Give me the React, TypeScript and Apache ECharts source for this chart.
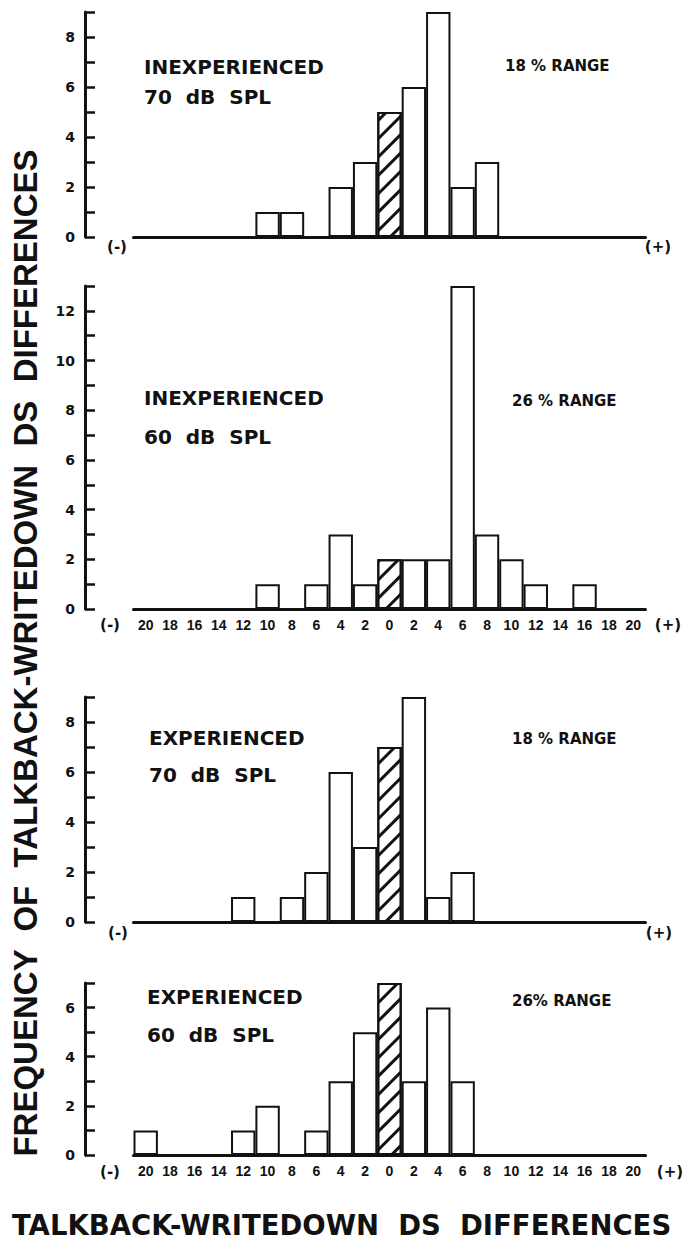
import React, { useEffect, useRef } from "react";
import * as echarts from "echarts";

// DS difference bins (signed); tick labels show absolute values
const bins = [-20, -18, -16, -14, -12, -10, -8, -6, -4, -2, 0, 2, 4, 6, 8, 10, 12, 14, 16, 18, 20];

// Frequencies per bin, one array per panel
const inexperienced70 = [0, 0, 0, 0, 0, 1, 1, 0, 2, 3, 5, 6, 9, 2, 3, 0, 0, 0, 0, 0, 0];
const inexperienced60 = [0, 0, 0, 0, 0, 1, 0, 1, 3, 1, 2, 2, 2, 13, 3, 2, 1, 0, 1, 0, 0];
const experienced70 = [0, 0, 0, 0, 1, 0, 1, 2, 6, 3, 7, 9, 1, 2, 0, 0, 0, 0, 0, 0, 0];
const experienced60 = [1, 0, 0, 0, 1, 2, 0, 1, 3, 5, 7, 3, 6, 3, 0, 0, 0, 0, 0, 0, 0];

const panelSeries = [inexperienced70, inexperienced60, experienced70, experienced60];
const yMax = [9, 13, 9, 7];
const groupLabels = ["INEXPERIENCED", "INEXPERIENCED", "EXPERIENCED", "EXPERIENCED"];
const levelLabels = ["70  dB  SPL", "60  dB  SPL", "70  dB  SPL", "60  dB  SPL"];
const rangeLabels = ["18 % RANGE", "26 % RANGE", "18 % RANGE", "26% RANGE"];
const showTickLabels = [false, true, false, true];
const yTitle = "FREQUENCY  OF  TALKBACK-WRITEDOWN  DS  DIFFERENCES";
const xTitle = "TALKBACK-WRITEDOWN  DS  DIFFERENCES";

const INK = "#111";

export default function App() {
  const ref = useRef<HTMLDivElement>(null);

  useEffect(() => {
    if (!ref.current) return;
    const chart = echarts.init(ref.current, undefined, { renderer: "svg" });

    // layout (pixels)
    const gridLeft = 133.5;
    const gridWidth = 512;
    const gridTops = [12, 286, 697, 983];
    const gridHeights = [225, 323, 225, 172];
    const groupY = [67, 398, 738, 997];
    const levelY = [97, 437, 775, 1035];
    const rangeY = [66, 401, 739, 1001];
    const rangeX = [505, 512, 512, 512];
    const groupX = [144, 144, 149, 147];
    const signY = [247, 625, 933, 1172];
    const minusX = [117, 110, 118, 110];
    const plusX = [658, 668, 659, 670];

    const decal = {
      symbol: "rect",
      symbolSize: 1,
      color: INK,
      backgroundColor: "#fff",
      dashArrayX: [1, 0],
      dashArrayY: [2.5, 10],
      rotation: -Math.PI / 4,
    };

    const grids: any[] = [];
    const xAxes: any[] = [];
    const yAxes: any[] = [];
    const series: any[] = [];
    const graphics: any[] = [];

    const txt = (
      text: string,
      x: number,
      y: number,
      font: string,
      align = "left",
      rotation = 0
    ) => ({
      type: "text",
      x,
      y,
      rotation,
      silent: true,
      style: {
        text,
        font,
        fill: INK,
        align,
        verticalAlign: "middle",
        textAlign: align,
        textVerticalAlign: "middle",
      },
    });

    panelSeries.forEach((vals, i) => {
      grids.push({ left: gridLeft, width: gridWidth, top: gridTops[i], height: gridHeights[i] });
      xAxes.push({
        gridIndex: i,
        type: "category",
        data: bins.map(String),
        boundaryGap: true,
        axisLine: { show: true, lineStyle: { color: INK, width: 3 } },
        axisTick: { show: false },
        splitLine: { show: false },
        axisLabel: {
          show: showTickLabels[i],
          interval: 0,
          formatter: (v: string) => String(Math.abs(Number(v))),
          color: INK,
          fontFamily: "Liberation Sans",
          fontWeight: "bold",
          fontSize: 14,
          margin: 9,
        },
      });
      yAxes.push({
        gridIndex: i,
        type: "value",
        min: 0,
        max: yMax[i],
        interval: 1,
        offset: 48.5,
        axisLine: { show: true, lineStyle: { color: INK, width: 3 } },
        axisTick: { show: true, inside: true, length: 10, lineStyle: { color: INK, width: 2.5 } },
        splitLine: { show: false },
        axisLabel: {
          formatter: (v: number) => (v % 2 === 0 ? String(v) : ""),
          color: INK,
          fontFamily: "DejaVu Sans",
          fontWeight: "bold",
          fontSize: 14,
          margin: 10,
        },
      });
      series.push({
        type: "bar",
        xAxisIndex: i,
        yAxisIndex: i,
        barCategoryGap: "0%",
        silent: true,
        itemStyle: { color: "#fff", borderColor: INK, borderWidth: 2 },
        data: vals.map((v, k) => (bins[k] === 0 ? { value: v, itemStyle: { decal } } : v)),
      });

      graphics.push(txt(groupLabels[i], groupX[i], groupY[i], 'bold 20px "DejaVu Sans"'));
      graphics.push(txt(levelLabels[i], groupX[i], levelY[i], 'bold 20px "DejaVu Sans"'));
      graphics.push(txt(rangeLabels[i], rangeX[i], rangeY[i], 'bold 15px "DejaVu Sans"'));
      graphics.push(txt("(-)", minusX[i], signY[i], 'bold 15px "DejaVu Sans"', "center"));
      graphics.push(txt("(+)", plusX[i], signY[i], 'bold 15px "DejaVu Sans"', "center"));
    });

    graphics.push(txt(yTitle, 25, 653, 'bold 33px "Liberation Sans"', "center", Math.PI / 2));
    graphics.push(txt(xTitle, 12, 1225, 'bold 27.5px "DejaVu Sans"', "left"));

    chart.setOption({
      animation: false,
      backgroundColor: "#fff",
      grid: grids,
      xAxis: xAxes,
      yAxis: yAxes,
      series,
      graphic: graphics,
    });

    return () => chart.dispose();
  }, []);

  return (
    <div
      ref={ref}
      style={{ position: "absolute", left: 0, top: 0, width: 685, height: 1245, background: "#fff" }}
    />
  );
}
